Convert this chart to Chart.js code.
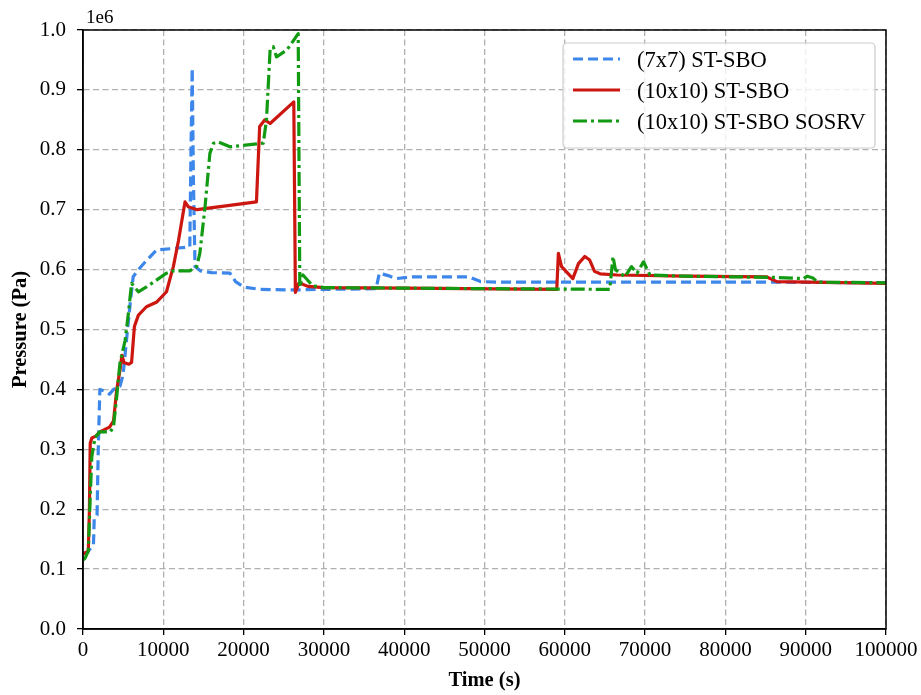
<!DOCTYPE html>
<html>
<head>
<meta charset="utf-8">
<script src="https://cdn.jsdelivr.net/npm/chart.js@4.4.1/dist/chart.umd.min.js"></script>
<style>
  html, body { margin: 0; padding: 0; background: #fff; }
  #wrap { width: 921px; height: 695px; }
</style>
</head>
<body>
<div id="wrap"><canvas id="chart" width="921" height="695"></canvas></div>
<script>
// pressure in units of 1e6 Pa, time in s
const labels = ["(7x7) ST-SBO", "(10x10) ST-SBO", "(10x10) ST-SBO SOSRV"]

const timeA = [0, 500, 1200, 1300, 1400, 1750, 1900, 2100, 2700, 3300, 3800, 4600, 5000, 5400, 5850, 6250, 6900, 7900, 9200, 11000, 13300, 13450, 13600, 13750, 13950, 14600, 16000, 18300, 19000, 20000, 22000, 26000, 30000, 36500, 36900, 38000, 39000, 41000, 48000, 49500, 52000, 85500, 100000]
const pressA = [0.125, 0.128, 0.138, 0.14, 0.185, 0.19, 0.30, 0.40, 0.397, 0.392, 0.40, 0.405, 0.425, 0.48, 0.54, 0.588, 0.60, 0.615, 0.633, 0.635, 0.638, 0.80, 0.936, 0.75, 0.605, 0.598, 0.595, 0.594, 0.58, 0.571, 0.567, 0.566, 0.567, 0.568, 0.594, 0.59, 0.585, 0.588, 0.588, 0.58, 0.579, 0.579, 0.578]

const timeB = [0, 250, 660, 800, 900, 1100, 1600, 2100, 3300, 3800, 4200, 4600, 4850, 5100, 5700, 6050, 6400, 6900, 7900, 9200, 10400, 10800, 11250, 11900, 12700, 13100, 14200, 21600, 22000, 22650, 23300, 26250, 26450, 26900, 28000, 30000, 40000, 59000, 59200, 59600, 61000, 61700, 62500, 63100, 63700, 64400, 66500, 75000, 85100, 86400, 100000]
const pressB = [0.125, 0.127, 0.13, 0.2, 0.31, 0.319, 0.322, 0.329, 0.337, 0.347, 0.40, 0.432, 0.457, 0.445, 0.442, 0.445, 0.505, 0.524, 0.538, 0.546, 0.563, 0.583, 0.605, 0.649, 0.713, 0.705, 0.700, 0.713, 0.839, 0.85, 0.844, 0.88, 0.562, 0.578, 0.572, 0.570, 0.569, 0.567, 0.627, 0.605, 0.585, 0.61, 0.622, 0.616, 0.597, 0.593, 0.591, 0.589, 0.588, 0.58, 0.577]

const timeC = [0, 250, 660, 900, 1100, 1500, 2100, 3400, 3800, 4200, 4600, 5250, 5650, 6050, 6900, 7900, 10400, 11250, 13300, 14150, 14550, 15200, 15800, 16250, 16850, 18300, 22450, 22850, 23300, 23700, 24100, 25400, 26400, 26800, 27000, 27400, 28600, 30000, 40000, 65600, 66000, 66300, 67500, 68300, 69000, 69800, 70600, 75000, 86000, 89700, 90200, 90900, 91500, 100000]
const pressC = [0.115, 0.118, 0.13, 0.22, 0.288, 0.32, 0.329, 0.329, 0.338, 0.388, 0.444, 0.482, 0.527, 0.577, 0.563, 0.571, 0.594, 0.598, 0.598, 0.605, 0.627, 0.705, 0.794, 0.811, 0.813, 0.805, 0.811, 0.85, 0.967, 0.972, 0.955, 0.967, 0.986, 0.994, 0.571, 0.591, 0.573, 0.570, 0.569, 0.567, 0.622, 0.6, 0.588, 0.605, 0.594, 0.613, 0.591, 0.589, 0.587, 0.585, 0.589, 0.586, 0.579, 0.578]

const xTicks = [0, 10000, 20000, 30000, 40000, 50000, 60000, 70000, 80000, 90000, 100000]
const yTicks = [0, 0.1, 0.2, 0.3, 0.4, 0.5, 0.6, 0.7, 0.8, 0.9, 1.0]

const colors = ['#3d86ea', '#cc1610', '#139a13']
const dashes = [[10, 5], [], [14, 4, 3, 4]]

const serif = "'Liberation Serif', 'Times New Roman', serif"

function toPoints(ts, ps) {
  return ts.map((t, i) => ({ x: t, y: ps[i] }))
}

let series = [[timeA, pressA], [timeB, pressB], [timeC, pressC]]
let datasets = series.map((s, i) => ({
  label: labels[i],
  data: toPoints(s[0], s[1]),
  borderColor: colors[i],
  borderWidth: 3.2,
  borderDash: dashes[i],
  borderJoinStyle: 'round',
  pointRadius: 0,
  tension: 0,
  order: 2 - i,
}))

// frame, offset label and boxed legend
const extras = {
  id: 'extras',
  afterDraw(chart) {
    let ctx = chart.ctx
    let a = chart.chartArea
    ctx.save()
    ctx.strokeStyle = '#000'
    ctx.lineWidth = 1.5
    ctx.strokeRect(a.left, a.top, a.right - a.left, a.bottom - a.top)

    ctx.fillStyle = '#000'
    ctx.font = "19px " + serif
    ctx.textAlign = 'left'
    ctx.textBaseline = 'alphabetic'
    ctx.fillText('1e6', a.left + 3, a.top - 7)

    // legend
    let lx = a.right - 323, ly = a.top + 13, lw = 312, lh = 105
    ctx.beginPath()
    ctx.roundRect(lx, ly, lw, lh, 4)
    ctx.fillStyle = 'rgba(255,255,255,0.8)'
    ctx.fill()
    ctx.strokeStyle = '#cccccc'
    ctx.lineWidth = 1.2
    ctx.stroke()
    ctx.font = "22.5px " + serif
    ctx.textBaseline = 'middle'
    chart.data.datasets.forEach((ds, i) => {
      let y = ly + 16 + i * 31
      ctx.beginPath()
      ctx.strokeStyle = ds.borderColor
      ctx.lineWidth = 3.2
      ctx.setLineDash(ds.borderDash)
      ctx.moveTo(lx + 10, y)
      ctx.lineTo(lx + 57, y)
      ctx.stroke()
      ctx.setLineDash([])
      ctx.fillStyle = '#000'
      ctx.fillText(ds.label, lx + 74, y + 2)
    })
    ctx.restore()
  }
}

let ctx = document.getElementById('chart').getContext('2d')
let myChart = new Chart(ctx, {
  type: 'line',
  data: { datasets: datasets },
  options: {
    responsive: false,
    animation: false,
    devicePixelRatio: 1,
    layout: { padding: { top: 30, right: 35, left: 0, bottom: 0 } },
    plugins: {
      legend: { display: false },
      tooltip: { enabled: false },
    },
    scales: {
      x: {
        type: 'linear',
        min: 0,
        max: 100000,
        afterBuildTicks: (scale) => { scale.ticks = xTicks.map(v => ({ value: v })) },
        afterFit: (scale) => { scale.height = 66 },
        ticks: {
          callback: (v) => String(v),
          color: '#000',
          font: { family: serif, size: 21 },
          padding: 3,
          maxRotation: 0,
          autoSkip: false,
        },
        grid: { color: '#b0b0b0', lineWidth: 1.3, tickLength: 6, tickColor: '#000', tickWidth: 1.3 },
        border: { display: true, color: '#000', width: 1.5, dash: [6, 3.5] },
        title: { display: true, text: 'Time (s)', color: '#000', font: { family: serif, size: 20.5, weight: 'bold' }, padding: { top: 0, bottom: 2 } },
      },
      y: {
        min: 0,
        max: 1,
        afterBuildTicks: (scale) => { scale.ticks = yTicks.map(v => ({ value: v })) },
        afterFit: (scale) => { scale.width = 83 },
        ticks: {
          callback: (v) => v.toFixed(1),
          color: '#000',
          font: { family: serif, size: 21 },
          padding: 11,
          autoSkip: false,
        },
        grid: { color: '#b0b0b0', lineWidth: 1.3, tickLength: 6, tickColor: '#000', tickWidth: 1.3 },
        border: { display: true, color: '#000', width: 1.5, dash: [6, 3.5] },
        title: { display: true, text: 'Pressure (Pa)', color: '#000', font: { family: serif, size: 20.5, weight: 'bold' }, padding: { top: 8, bottom: 0 } },
      },
    },
  },
  plugins: [extras],
})
</script>
</body>
</html>
